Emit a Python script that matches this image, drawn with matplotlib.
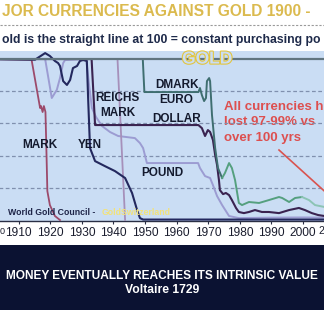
import matplotlib
matplotlib.use("Agg")
import matplotlib.pyplot as plt
import matplotlib.patheffects as pe
from matplotlib.patches import Rectangle

plt.rcParams['font.family'] = ['Liberation Sans', 'DejaVu Sans']

# ---------------- data ----------------
gold_years = [1900, 2010]
gold_vals = [100, 100]

mark_years = [1900, 1914.1, 1916.8, 1917.1, 1917.6, 1918.0, 1918.5, 1918.8, 1919.1, 1919.9, 1921.5, 1923.1]
mark_vals = [100, 99.6, 69.6, 70.8, 67.1, 70.8, 67.1, 43.5, 18.0, 9.3, 2.5, 0.0]

pound_years = [1900, 1918.4, 1920.5, 1922.1, 1923.1, 1924.1, 1924.7, 1931.4, 1932.3, 1933.2, 1934.5,
               1936.4, 1938.9, 1941.5, 1946.8, 1948.4, 1949.4, 1950.6, 1966.8, 1967.4, 1969.0, 1970.6,
               1971.5, 1972.8, 1974.4, 1976.6, 1979.7, 1990.0, 2000.0, 2006.8]
pound_vals = [100, 100, 75.8, 80.9, 88.2, 97.5, 99.4, 100, 83.9, 69.6, 64.0,
              58.4, 54.7, 52.2, 50.9, 47.8, 44.7, 35.4, 35.4, 32.3, 27.3, 26.1,
              21.7, 14.9, 9.3, 2.5, 1.2, 1.5, 1.6, 1.5]

yen_years = [1900, 1915.2, 1918.4, 1919.9, 1921.5, 1922.5, 1923.1, 1924.1, 1925.3, 1926.3, 1927.2,
             1928.5, 1929.4, 1930.4, 1931.6, 1932.0, 1932.6, 1934.2, 1937.3, 1940.5, 1943.7, 1945.9,
             1947.5, 1948.4, 1949.4, 2006.8]
yen_vals = [100, 99.6, 103.7, 101.9, 98.8, 97.5, 95.7, 86.3, 83.9, 87.0, 94.4,
            95.7, 98.8, 99.4, 98.8, 75.8, 44.7, 36.6, 33.5, 30.4, 26.1, 16.8,
            6.2, 1.2, 0.3, 0.3]

reichsmark_years = [1924.0, 1941.3, 1942.5, 1943.7]
reichsmark_vals = [100, 100, 50, 0]

dollar_years = [1900, 1933.1, 1934.2, 1966.9, 1968.0, 1969.0, 1969.9, 1970.6, 1971.5, 1972.2, 1972.8,
                1973.4, 1973.7, 1974.7, 1975.6, 1976.6, 1977.5, 1978.8, 1979.7, 1981.3, 1982.9,
                1984.8, 1987.0, 1989.2, 1992.4, 1995.6, 1998.7, 2000.6, 2002.8, 2004.8, 2006.8]
dollar_vals = [100, 100, 59, 59, 57.1, 52.2, 55.9, 54.7, 49.7, 40.4, 34.2,
               24.8, 18.6, 16.1, 16.8, 15.5, 12.4, 7.5, 5.0, 4.3, 5.0,
               6.2, 5.0, 5.0, 4.3, 6.2, 7.5, 6.2, 4.3, 3.1, 2.5]

dmark_years = [1949.3, 1949.8, 1966.9, 1967.4, 1968.0, 1968.7, 1969.3, 1969.6, 1970.3, 1970.6,
               1971.2, 1972.2, 1973.1, 1974.4]
dmark_vals = [100, 79.5, 79.5, 82.0, 77.6, 73.9, 75.8, 86.3, 88.2, 86.3,
              65.2, 44.7, 32.3, 26.1]

dmark2_years = [1974.4, 1975.3, 1976.6, 1977.5, 1978.5, 1979.7, 1980.7, 1982.9, 1986.1, 1989.2,
                1992.4, 1993.4, 1995.6, 1997.5, 1999.7]
dmark2_vals = [26.1, 29.2, 35.4, 32.3, 24.8, 10.6, 9.3, 11.2, 10.6, 12.4,
               14.3, 13.7, 11.2, 13.7, 14.3]

euro_years = [1999.7, 2001.9, 2003.8, 2006.8]
euro_vals = [14.3, 12.4, 9.3, 8.1]

arrow_years = [1992.4, 2008.5]
arrow_vals = [43.5, 14.9]

xticks = list(range(1900, 2011, 10))
xtick_labels = ['' if t in (1900, 2010) else str(t) for t in xticks]
edge_labels = ['0', '2']   # visible fragments of the 1900 / 2010 labels at the crop edges
grid_vals = [20, 40, 60, 80]

# ---------------- figure ----------------
W, H = 324, 310
fig = plt.figure(figsize=(W / 100, H / 100), dpi=100)
fig.patch.set_facecolor('white')

# dark bottom band
fig.patches.append(Rectangle((0, 0), 1, 65 / H, transform=fig.transFigure,
                             facecolor='#0B1232', edgecolor='none', zorder=0))

# title, separator, subtitle
fig.text(2 / W, 1 - 15.7 / H, 'JOR CURRENCIES AGAINST GOLD 1900 -', color='#DBBA4E',
         fontsize=11.2, fontweight='bold', ha='left', va='baseline')
fig.add_artist(plt.Line2D([0, 1], [1 - 24.5 / H, 1 - 24.5 / H], transform=fig.transFigure,
                          color='#9A9A9A', lw=0.8, linestyle=(0, (2, 1.5))))
fig.text(1.5 / W, 1 - 42.5 / H, 'old is the straight line at 100 = constant purchasing po',
         color='#1E2A4A', fontsize=8.8, fontweight='bold', ha='left', va='baseline')

# bottom quote
fig.text(0.5, 1 - 279.3 / H, 'MONEY EVENTUALLY REACHES ITS INTRINSIC VALUE', color='white',
         fontsize=8.6, fontweight='bold', ha='center', va='baseline')
fig.text(0.5, 1 - 292.7 / H, 'Voltaire 1729', color='white',
         fontsize=8.7, fontweight='bold', ha='center', va='baseline')

# axes (wider than the figure, as in the cropped reference)
left_px = -13.0
right_px = 334.6
top_px = 51.0
bot_px = 221.0
ax = fig.add_axes([left_px / W, 1 - bot_px / H, (right_px - left_px) / W, (bot_px - top_px) / H])
ax.set_facecolor('#CADDF4')
ax.set_xlim(1900, 2010)
ax.set_ylim(-0.6, 105)

for s in ['left', 'right', 'top']:
    ax.spines[s].set_visible(False)
ax.spines['bottom'].set_color('#2A2F45')
ax.spines['bottom'].set_linewidth(1.0)
ax.set_yticks([])
ax.set_xticks(xticks)
ax.set_xticklabels(xtick_labels)
ax.tick_params(axis='x', direction='out', length=2.5, width=0.8, color='#2A2F45',
               labelsize=8.6, labelcolor='#1A1D2E', pad=1.5)

# edge fragments of the clipped first/last tick labels
fig.text(0 / W, 1 - 234.3 / H, edge_labels[0], fontsize=6.5, color='#1A1D2E', ha='left', va='baseline')
fig.text(324 / W, 1 - 234.3 / H, edge_labels[1], fontsize=7.5, color='#1A1D2E', ha='right', va='baseline')

for g in grid_vals:
    ax.axhline(g, color='#8090AE', lw=0.9, linestyle=(0, (3, 2)), zorder=2)

# currency lines
ax.plot(mark_years, mark_vals, color='#9C4A6B', lw=1.3, zorder=3)
ax.plot(pound_years, pound_vals, color='#9C9CD2', lw=1.4, zorder=3)
ax.plot(reichsmark_years, reichsmark_vals, color='#A690BA', lw=1.3, zorder=3)
ax.plot(yen_years, yen_vals, color='#23285E', lw=1.5, zorder=3)
ax.plot(dollar_years, dollar_vals, color='#3A2350', lw=1.5, zorder=3)
ax.plot(dmark_years, dmark_vals, color='#3F6E70', lw=1.4, zorder=3)
ax.plot(dmark2_years, dmark2_vals, color='#55A07F', lw=1.4, zorder=3)
ax.plot(euro_years, euro_vals, color='#8CC4B4', lw=1.4, zorder=3)
ax.plot(gold_years, gold_vals, color='#617580', lw=1.6, zorder=4)

# red arrow line
ax.plot(arrow_years, arrow_vals, color='#D9534F', lw=1.2, zorder=3)

# labels
lab = dict(fontsize=8.5, fontweight='bold', color='#141A2E', ha='center', va='center', zorder=5)
ax.text(1916.6, 46.6, 'MARK', **lab)
ax.text(1932.6, 46.6, 'YEN', **lab)
ax.text(1941.3, 75.8, 'REICHS', **lab)
ax.text(1941.3, 66.5, 'MARK', **lab)
ax.text(1960.0, 83.9, 'DMARK', **lab)
ax.text(1960.0, 74.5, 'EURO', **lab)
ax.text(1960.1, 62.7, 'DOLLAR', **lab)
ax.text(1955.5, 29.2, 'POUND', **lab)

red = dict(fontsize=9.5, fontweight='bold', color='#DD4F4F', ha='left', va='center', zorder=1)
ax.text(1975.0, 70.2, 'All currencies h', **red)
ax.text(1975.0, 60.9, 'lost 97-99% vs', **red)
ax.text(1975.0, 50.9, 'over 100 yrs', **red)

ax.text(1969.7, 100, 'GOLD', fontsize=12.5, fontweight='bold', color='#CADDF4', ha='center',
        va='center', zorder=6,
        path_effects=[pe.Stroke(linewidth=1.6, foreground='#E3C53E'), pe.Normal()])

ax.text(1906.5, 4.5, 'World Gold Council - ', fontsize=6.3, fontweight='bold',
        color='#1E2548', ha='left', va='center', zorder=5)
ax.text(1936.3, 4.5, 'GoldSwitzerland', fontsize=6.3, fontweight='bold',
        color='#F2E27A', ha='left', va='center', zorder=5)

fig.savefig('out.png', dpi=100, facecolor=fig.get_facecolor())
